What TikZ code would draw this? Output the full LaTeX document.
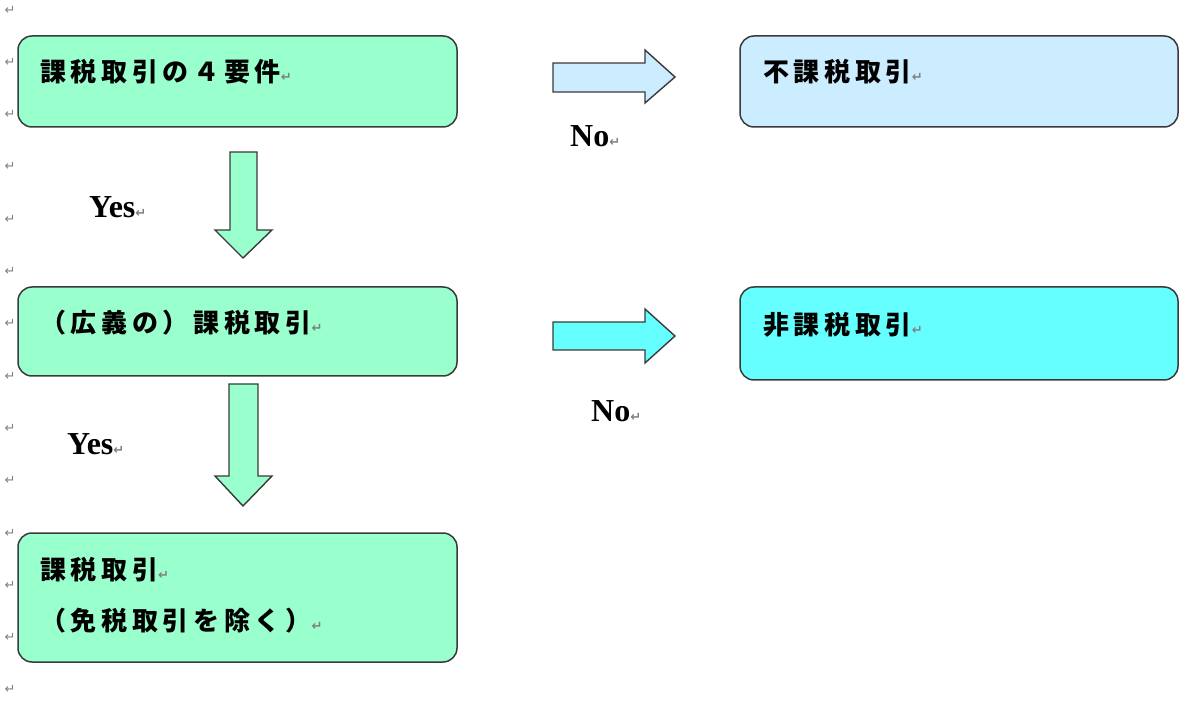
\documentclass[tikz,border=0pt]{standalone}
\usepackage{fontspec}
\newfontfamily\jp{Noto Sans CJK JP}[LetterSpace=18]
\newfontfamily\lat{Liberation Serif}
\newfontfamily\dv{DejaVu Sans}
\definecolor{mint}{HTML}{99FFCC}
\definecolor{pale}{HTML}{CCECFF}
\definecolor{cyanf}{HTML}{66FFFF}
\definecolor{edge}{HTML}{3A3A3A}
\newcommand\rmk{{\dv\fontsize{13}{13}\selectfont\color{gray}↵}}
\tikzset{
  box/.style={draw=edge, line width=1.5pt, rounded corners=14pt},
  blk/.style={draw=edge, line width=1.4pt, line join=miter},
  jtxt/.style={anchor=west, inner sep=0pt, font=\jp\bfseries\fontsize{26}{30}\selectfont},
  ltxt/.style={anchor=west, inner sep=0pt, font=\lat\bfseries\fontsize{32}{34}\selectfont},
  mrk/.style={inner sep=0pt, font=\dv\fontsize{13}{13}\selectfont, text=gray}
}
\begin{document}
\begin{tikzpicture}[x=1pt,y=-1pt]
\useasboundingbox (0,0) rectangle (1200,711);
% boxes
\draw[box, fill=mint] (18,36) rectangle (457,127);
\draw[box, fill=pale] (740,36) rectangle (1178,127);
\draw[box, fill=mint] (18,287) rectangle (457,376);
\draw[box, fill=cyanf] (740,287) rectangle (1178,380);
\draw[box, fill=mint] (18,533) rectangle (457,662);
% block arrows
\draw[blk, fill=pale] (553,63) -- (645,63) -- (645,50) -- (675,77) -- (645,103) -- (645,92) -- (553,92) -- cycle;
\draw[blk, fill=cyanf] (553,322) -- (645,322) -- (645,309) -- (675,336) -- (645,363) -- (645,350) -- (553,350) -- cycle;
\draw[blk, fill=mint] (230,152) -- (257,152) -- (257,230) -- (272,230) -- (243,258) -- (215,230) -- (230,230) -- cycle;
\draw[blk, fill=mint] (229,384) -- (258,384) -- (258,476) -- (272,476) -- (243,506) -- (215,476) -- (229,476) -- cycle;
% texts
\node[jtxt] (t1) at (40,72) {課税取引の４要件\rmk};
\node[jtxt] (t2) at (763,72) {不課税取引\rmk};
\node[jtxt] (t3) at (40,323) {（広義の）課税取引\rmk};
\node[jtxt] (t4) at (763,325) {非課税取引\rmk};
\node[jtxt] (t5) at (40,570) {課税取引\rmk};
\node[jtxt] (t6) at (40,621) {（免税取引を除く）\rmk};
\node[ltxt] (n1) at (570,136) {No\rmk};
\node[ltxt] (n2) at (591,411) {No\rmk};
\node[ltxt] (y1) at (89,207) {Yes\rmk};
\node[ltxt] (y2) at (67,444) {Yes\rmk};
% margin paragraph marks
\foreach \i in {0,...,13} {
  \node[mrk] (m\i) at (10,{10+52.3*\i}) {↵};
}
\end{tikzpicture}
\end{document}
